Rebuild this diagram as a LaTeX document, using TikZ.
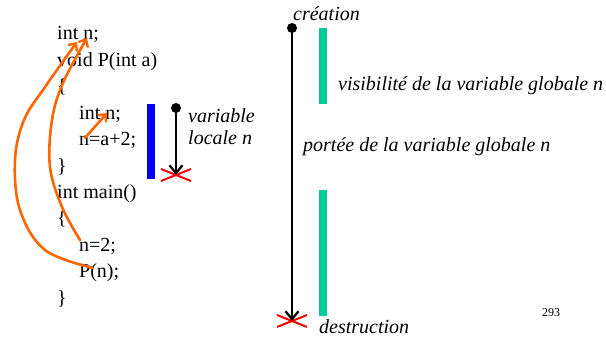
\documentclass[tikz,border=0pt]{standalone}
\usepackage{fontspec}
\setmainfont{Liberation Serif}[ItalicFont=Liberation Serif Italic]
\usetikzlibrary{arrows.meta,shapes.misc}
\definecolor{arroworange}{RGB}{255,102,0}
\definecolor{barblue}{RGB}{0,0,255}
\definecolor{bargreen}{RGB}{0,204,153}
\tikzset{
  codeline/.style={anchor=base west, inner sep=0pt, font=\fontsize{20}{24}\selectfont},
  itlabel/.style={anchor=base west, inner sep=0pt, font=\fontsize{20}{24}\selectfont\itshape},
  lifedot/.style={circle, fill=black, inner sep=0pt, minimum size=10pt},
  redcross/.style={cross out, draw=red, line width=2pt, inner sep=0pt, minimum width=28pt, minimum height=10pt},
  lifeline/.style={line width=2.2pt, -{Straight Barb[length=8pt, width=13pt, line width=2.2pt]}},
  callarrow/.style={arroworange, line width=2.6pt, line cap=round, -{Straight Barb[length=6pt, width=11pt, line width=2.4pt]}}
}
\begin{document}
\begin{tikzpicture}[x=1pt, y=-1pt]
    % Page size
    \useasboundingbox (0,0) rectangle (606,337);
    % Code listing
    \node[codeline] (c1) at (57,40) {int n;};
    \node[codeline] (c2) at (57,66.4) {void P(int a)};
    \node[codeline] (c3) at (57,92.8) {\{};
    \node[codeline] (c4) at (79,119.2) {int n;};
    \node[codeline] (c5) at (79,145.6) {n=a+2;};
    \node[codeline] (c6) at (57,172) {\}};
    \node[codeline] (c7) at (57,198.4) {int main()};
    \node[codeline] (c8) at (57,224.8) {\{};
    \node[codeline] (c9) at (79,251.2) {n=2;};
    \node[codeline] (c10) at (79,277.6) {P(n);};
    \node[codeline] (c11) at (57,304) {\}};
    % Ends of the hand drawn arrows
    \coordinate (nglobA) at (77,42);
    \coordinate (nglobB) at (87,38);
    \coordinate (nloc) at (107,113);
    \coordinate (fromcall) at (93,268);
    \coordinate (fromassign) at (80,240);
    \coordinate (fromlocal) at (85,138);
    % Orange arrows
    \draw[callarrow] plot[smooth, tension=0.6] coordinates {(fromcall) (45,250) (20,210) (15,160) (24,120) (45,87) (nglobA)};
    \draw[callarrow] plot[smooth, tension=0.6] coordinates {(fromassign) (62,207) (50,167) (52,120) (63,83) (nglobB)};
    \draw[callarrow] (fromlocal) -- (nloc);
    % Local variable
    \fill[barblue] (147,104) rectangle (155,179);
    \node[lifedot] (locstart) at (176,108) {};
    \node[redcross] (locend) at (176,175) {};
    \draw[lifeline] (locstart.center) -- (locend.center);
    \node[itlabel] (locvar) at (188,123) {variable};
    \node[itlabel] (locname) at (188,144) {locale n};
    % Global variable
    \node[lifedot] (globstart) at (292,28) {};
    \node[redcross] (globend) at (292,321) {};
    \draw[lifeline] (globstart.center) -- (globend.center);
    \node[itlabel] (creation) at (293,21) {création};
    \node[itlabel] (destruction) at (319,333) {destruction};
    \node[itlabel] (scope) at (303,152) {portée de la variable globale n};
    % Visibility bars
    \fill[bargreen] (319,28) rectangle (327,104);
    \fill[bargreen] (319,190) rectangle (327,316);
    \node[itlabel] (visible) at (338,91) {visibilité de la variable globale n};
    % Page number
    \node[anchor=base west, inner sep=0pt, font=\fontsize{12}{14}\selectfont] (pagenum) at (542,316) {293};
\end{tikzpicture}
\end{document}
